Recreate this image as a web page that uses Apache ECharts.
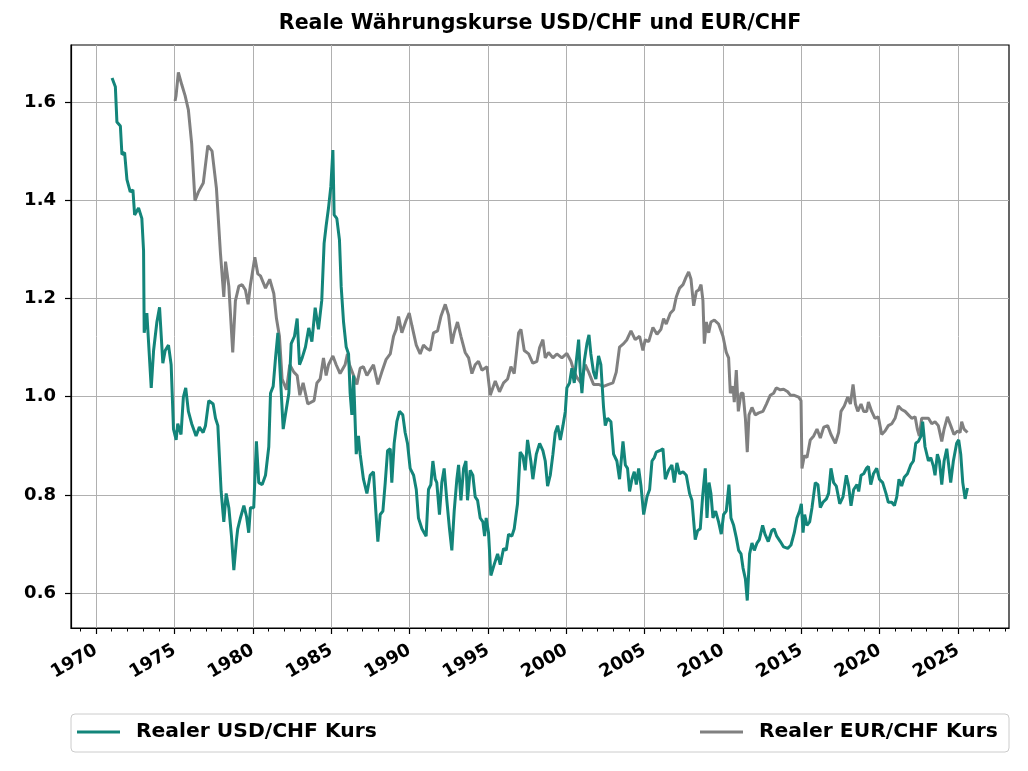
<!DOCTYPE html>
<html>
<head>
<meta charset="utf-8">
<title>Reale Währungskurse</title>
<script src="https://cdn.jsdelivr.net/npm/echarts@6.0.0/dist/echarts.min.js"></script>
<style>
    html,body{margin:0;padding:0;background:#fff;}
    #chart{width:1028px;height:771px;}
</style>
</head>
<body>
<div id="chart"></div>
<script type="text/javascript">
// Werte (Jahr als Dezimalzahl, Kurs)
var usdYears = [1971.02,1971.23,1971.33,1971.55,1971.65,1971.82,1971.97,1972.18,1972.35,1972.46,1972.71,1972.92,1973.03,1973.07,1973.24,1973.52,1973.67,1973.88,1974.05,1974.26,1974.41,1974.62,1974.79,1974.94,1975.11,1975.21,1975.42,1975.57,1975.72,1975.89,1976.10,1976.38,1976.59,1976.83,1976.98,1977.19,1977.47,1977.62,1977.77,1977.98,1978.15,1978.30,1978.47,1978.64,1978.79,1978.96,1979.04,1979.21,1979.43,1979.60,1979.74,1979.85,1980.06,1980.23,1980.38,1980.60,1980.81,1981.02,1981.13,1981.30,1981.45,1981.60,1981.72,1981.94,1982.08,1982.30,1982.45,1982.66,1982.83,1982.98,1983.15,1983.36,1983.57,1983.77,1983.98,1984.19,1984.40,1984.55,1984.68,1984.83,1984.98,1985.11,1985.19,1985.36,1985.53,1985.64,1985.79,1985.96,1986.11,1986.21,1986.32,1986.43,1986.60,1986.74,1986.85,1987.06,1987.28,1987.49,1987.70,1987.85,1987.98,1988.13,1988.30,1988.45,1988.60,1988.77,1988.87,1989.02,1989.19,1989.36,1989.57,1989.72,1989.87,1990.04,1990.26,1990.43,1990.57,1990.79,1991.06,1991.21,1991.36,1991.49,1991.64,1991.74,1991.91,1992.06,1992.21,1992.38,1992.55,1992.70,1992.85,1993.02,1993.13,1993.28,1993.45,1993.60,1993.70,1993.87,1994.04,1994.19,1994.34,1994.51,1994.68,1994.79,1994.89,1995.04,1995.19,1995.40,1995.62,1995.79,1996.00,1996.17,1996.32,1996.53,1996.68,1996.89,1997.06,1997.23,1997.38,1997.53,1997.74,1997.87,1998.09,1998.30,1998.51,1998.66,1998.81,1998.98,1999.15,1999.30,1999.45,1999.62,1999.79,1999.94,2000.04,2000.21,2000.36,2000.51,2000.64,2000.79,2000.89,2001.00,2001.15,2001.32,2001.45,2001.57,2001.74,2001.89,2002.06,2002.21,2002.38,2002.49,2002.64,2002.85,2003.02,2003.23,2003.40,2003.62,2003.77,2003.91,2004.04,2004.19,2004.34,2004.47,2004.62,2004.77,2004.94,2005.15,2005.32,2005.47,2005.62,2005.74,2005.96,2006.17,2006.32,2006.53,2006.74,2006.89,2007.06,2007.23,2007.45,2007.66,2007.87,2008.02,2008.23,2008.38,2008.55,2008.70,2008.87,2008.98,2009.11,2009.23,2009.36,2009.53,2009.72,2009.89,2010.04,2010.21,2010.38,2010.51,2010.68,2010.85,2011.00,2011.15,2011.28,2011.43,2011.55,2011.70,2011.85,2012.00,2012.17,2012.32,2012.53,2012.68,2012.89,2013.11,2013.26,2013.43,2013.66,2013.87,2014.13,2014.34,2014.55,2014.72,2014.89,2015.00,2015.11,2015.21,2015.36,2015.53,2015.68,2015.89,2016.06,2016.21,2016.38,2016.60,2016.74,2016.89,2017.06,2017.23,2017.45,2017.66,2017.87,2018.02,2018.17,2018.34,2018.55,2018.66,2018.81,2018.98,2019.15,2019.28,2019.43,2019.60,2019.81,2019.98,2020.19,2020.40,2020.55,2020.77,2020.94,2021.09,2021.23,2021.40,2021.57,2021.77,2021.98,2022.15,2022.30,2022.47,2022.64,2022.74,2022.89,2023.11,2023.26,2023.43,2023.53,2023.68,2023.81,2023.96,2024.11,2024.28,2024.40,2024.53,2024.70,2024.91,2025.04,2025.17,2025.30,2025.45,2025.60];
var usdValues = [1.649,1.631,1.559,1.551,1.493,1.497,1.442,1.417,1.421,1.370,1.384,1.363,1.297,1.130,1.170,1.018,1.094,1.152,1.182,1.068,1.094,1.105,1.065,0.934,0.912,0.945,0.923,0.999,1.018,0.970,0.945,0.920,0.938,0.927,0.941,0.992,0.985,0.956,0.941,0.807,0.745,0.803,0.774,0.716,0.647,0.709,0.731,0.753,0.778,0.756,0.723,0.774,0.774,0.909,0.825,0.821,0.840,0.898,1.007,1.021,1.079,1.130,1.065,0.934,0.963,1.007,1.108,1.123,1.159,1.065,1.079,1.101,1.140,1.112,1.181,1.137,1.196,1.312,1.348,1.384,1.428,1.502,1.370,1.363,1.319,1.224,1.152,1.101,1.087,1.007,0.963,1.043,0.883,0.920,0.883,0.832,0.803,0.840,0.847,0.767,0.705,0.760,0.767,0.825,0.890,0.894,0.825,0.905,0.949,0.970,0.963,0.927,0.905,0.854,0.840,0.811,0.753,0.731,0.716,0.811,0.821,0.869,0.832,0.825,0.760,0.825,0.854,0.789,0.731,0.687,0.767,0.832,0.861,0.789,0.854,0.869,0.789,0.850,0.840,0.796,0.789,0.753,0.745,0.716,0.753,0.723,0.636,0.658,0.680,0.658,0.691,0.687,0.720,0.716,0.731,0.782,0.887,0.879,0.850,0.912,0.869,0.832,0.883,0.905,0.890,0.869,0.818,0.840,0.883,0.927,0.941,0.912,0.941,0.970,1.018,1.028,1.058,1.028,1.072,1.116,1.050,1.007,1.072,1.108,1.126,1.087,1.050,1.036,1.083,1.065,0.978,0.941,0.956,0.949,0.883,0.869,0.832,0.909,0.861,0.854,0.807,0.832,0.847,0.821,0.854,0.818,0.760,0.796,0.811,0.869,0.876,0.887,0.890,0.894,0.832,0.850,0.861,0.825,0.865,0.843,0.847,0.840,0.803,0.789,0.709,0.727,0.731,0.796,0.854,0.753,0.825,0.803,0.753,0.767,0.745,0.720,0.760,0.767,0.821,0.753,0.738,0.713,0.687,0.680,0.651,0.629,0.585,0.680,0.702,0.687,0.702,0.709,0.738,0.720,0.705,0.727,0.731,0.716,0.705,0.694,0.691,0.698,0.723,0.753,0.767,0.782,0.723,0.760,0.738,0.745,0.774,0.825,0.821,0.774,0.785,0.792,0.803,0.854,0.825,0.818,0.782,0.796,0.840,0.818,0.778,0.811,0.821,0.807,0.840,0.843,0.854,0.858,0.821,0.843,0.854,0.832,0.825,0.803,0.785,0.785,0.778,0.796,0.832,0.818,0.836,0.843,0.861,0.869,0.905,0.909,0.920,0.949,0.898,0.869,0.876,0.858,0.840,0.883,0.869,0.821,0.869,0.894,0.861,0.825,0.869,0.905,0.912,0.883,0.825,0.792,0.814];

var eurYears = [1975.04,1975.10,1975.25,1975.47,1975.68,1975.89,1976.10,1976.31,1976.53,1976.84,1977.13,1977.40,1977.68,1977.94,1978.15,1978.26,1978.47,1978.72,1978.89,1979.11,1979.32,1979.53,1979.70,1979.85,1980.13,1980.32,1980.49,1980.81,1981.08,1981.34,1981.51,1981.70,1981.87,1982.15,1982.36,1982.62,1982.83,1983.00,1983.21,1983.51,1983.91,1984.09,1984.30,1984.51,1984.68,1984.83,1985.11,1985.32,1985.57,1985.89,1986.04,1986.17,1986.43,1986.64,1986.85,1987.06,1987.28,1987.49,1987.70,1987.98,1988.23,1988.51,1988.77,1988.98,1989.15,1989.30,1989.51,1989.79,1989.98,1990.15,1990.43,1990.68,1990.89,1991.11,1991.32,1991.53,1991.79,1992.00,1992.28,1992.49,1992.70,1992.85,1993.06,1993.28,1993.55,1993.77,1993.98,1994.19,1994.40,1994.62,1994.94,1995.15,1995.47,1995.74,1996.00,1996.26,1996.47,1996.68,1996.96,1997.11,1997.32,1997.60,1997.87,1998.13,1998.30,1998.51,1998.66,1998.87,1999.15,1999.40,1999.72,2000.04,2000.30,2000.51,2000.68,2000.94,2001.21,2001.43,2001.74,2002.06,2002.38,2002.70,2002.98,2003.19,2003.40,2003.66,2003.87,2004.13,2004.40,2004.68,2004.89,2005.04,2005.26,2005.53,2005.79,2006.04,2006.21,2006.38,2006.64,2006.85,2007.02,2007.23,2007.45,2007.64,2007.81,2007.96,2008.13,2008.30,2008.45,2008.60,2008.72,2008.81,2008.94,2009.09,2009.23,2009.45,2009.72,2010.00,2010.21,2010.36,2010.47,2010.64,2010.72,2010.85,2010.98,2011.15,2011.28,2011.43,2011.55,2011.66,2011.85,2012.06,2012.28,2012.55,2012.77,2013.02,2013.23,2013.40,2013.66,2013.87,2014.13,2014.30,2014.51,2014.83,2014.98,2015.04,2015.19,2015.36,2015.57,2015.79,2016.00,2016.21,2016.43,2016.68,2016.89,2017.17,2017.38,2017.53,2017.74,2017.96,2018.13,2018.30,2018.45,2018.60,2018.81,2018.98,2019.17,2019.28,2019.49,2019.70,2019.91,2020.13,2020.34,2020.55,2020.77,2020.98,2021.19,2021.40,2021.62,2021.83,2022.04,2022.26,2022.40,2022.53,2022.68,2022.89,2023.11,2023.32,2023.53,2023.74,2023.96,2024.11,2024.32,2024.53,2024.74,2024.96,2025.13,2025.23,2025.38,2025.60];
var eurValues = [1.602,1.612,1.660,1.635,1.613,1.584,1.515,1.399,1.417,1.435,1.511,1.500,1.424,1.290,1.203,1.275,1.225,1.090,1.195,1.225,1.228,1.217,1.188,1.228,1.284,1.250,1.246,1.221,1.239,1.210,1.159,1.123,1.036,1.014,1.065,1.050,1.043,1.003,1.028,0.985,0.992,1.028,1.036,1.079,1.043,1.065,1.083,1.065,1.047,1.065,1.087,1.065,1.043,1.025,1.058,1.061,1.043,1.054,1.065,1.025,1.050,1.076,1.087,1.123,1.137,1.163,1.130,1.156,1.170,1.145,1.105,1.087,1.105,1.098,1.094,1.130,1.134,1.163,1.188,1.166,1.108,1.130,1.152,1.123,1.090,1.079,1.047,1.065,1.072,1.054,1.061,1.003,1.032,1.010,1.028,1.036,1.061,1.047,1.130,1.137,1.094,1.087,1.068,1.072,1.100,1.116,1.079,1.090,1.079,1.087,1.079,1.088,1.072,1.050,1.039,1.028,1.065,1.050,1.025,1.025,1.021,1.025,1.028,1.050,1.101,1.108,1.116,1.134,1.116,1.123,1.094,1.116,1.112,1.141,1.127,1.137,1.159,1.148,1.170,1.177,1.203,1.221,1.228,1.243,1.254,1.239,1.185,1.214,1.217,1.228,1.196,1.108,1.152,1.130,1.152,1.156,1.148,1.123,1.090,1.079,1.007,1.021,0.989,1.054,0.970,1.007,1.007,0.956,0.887,0.963,0.978,0.963,0.967,0.970,0.985,1.003,1.007,1.018,1.014,1.015,1.010,1.003,1.003,0.999,0.992,0.854,0.880,0.876,0.912,0.920,0.934,0.916,0.938,0.941,0.923,0.905,0.927,0.970,0.981,0.999,0.985,1.025,0.985,0.970,0.985,0.970,0.970,0.989,0.970,0.956,0.959,0.923,0.930,0.941,0.945,0.956,0.981,0.974,0.970,0.963,0.956,0.959,0.934,0.920,0.956,0.956,0.956,0.945,0.949,0.941,0.909,0.934,0.959,0.941,0.923,0.930,0.927,0.949,0.934,0.927];

var yearLabels = [1970,1975,1980,1985,1990,1995,2000,2005,2010,2015,2020,2025];
var minorYears = [];
for (var y = 1969; y <= 2028; y++) { minorYears.push(y); }
var yTicks = [0.6,0.8,1.0,1.2,1.4,1.6];

function pairs(xs, vs) {
    var out = [];
    for (var i = 0; i < xs.length; i++) { out.push([xs[i], vs[i]]); }
    return out;
}

var chart = echarts.init(document.getElementById('chart'));
var fontBold = { fontFamily: 'DejaVu Sans', fontWeight: 'bold', color: '#000' };
var legendText = { fontFamily: 'DejaVu Sans', fontWeight: 'bold', fontSize: 20.3, color: '#000', lineHeight: 24, padding: [0, 0, 0, 11] };

var option = {
    animation: false,
    backgroundColor: '#ffffff',
    title: {
        text: 'Reale Währungskurse USD/CHF und EUR/CHF',
        left: 540,
        textAlign: 'center',
        top: 13,
        padding: 0,
        textStyle: { fontFamily: 'DejaVu Sans', fontWeight: 'bold', fontSize: 20.6, color: '#000' }
    },
    grid: {
        left: 71, right: 19, top: 45, bottom: 143,
        show: true, borderColor: '#000', borderWidth: 1.2, backgroundColor: 'transparent'
    },
    graphic: [{
        type: 'rect',
        z: 0,
        shape: { x: 71, y: 714, width: 938, height: 38, r: 4 },
        style: { fill: '#fff', stroke: '#cccccc', lineWidth: 1 }
    }],
    legend: [{
        data: ['Realer USD/CHF Kurs'],
        left: 77, top: 720, padding: 0, z: 10,
        icon: 'rect', itemWidth: 43, itemHeight: 3,
        textStyle: legendText
    }, {
        data: ['Realer EUR/CHF Kurs'],
        left: 700, top: 720, padding: 0, z: 10,
        icon: 'rect', itemWidth: 43, itemHeight: 3,
        textStyle: legendText
    }],
    xAxis: [{
        type: 'value',
        min: 1968.4, max: 2028.25,
        axisLine: { lineStyle: { color: '#000', width: 1.2 } },
        axisTick: { customValues: yearLabels, length: 6, lineStyle: { color: '#000', width: 1.2 } },
        axisLabel: Object.assign({ customValues: yearLabels, rotate: 30, fontSize: 18, margin: 21, formatter: function (v) { return String(v); } }, fontBold),
        splitLine: { show: true, lineStyle: { color: '#b0b0b0', width: 1 } }
    }, {
        type: 'value',
        position: 'bottom',
        min: 1968.4, max: 2028.25,
        axisLine: { show: false },
        axisTick: { customValues: minorYears, length: 3.5, lineStyle: { color: '#000', width: 1 } },
        axisLabel: { show: false },
        splitLine: { show: false }
    }],
    yAxis: {
        type: 'value',
        min: 0.529, max: 1.716,
        axisLine: { show: true, lineStyle: { color: '#000', width: 1.2 } },
        axisTick: { show: true, customValues: yTicks, length: 6, lineStyle: { color: '#000', width: 1.2 } },
        axisLabel: Object.assign({ customValues: yTicks, fontSize: 18, margin: 15, formatter: function (v) { return v.toFixed(1); } }, fontBold),
        splitLine: { show: true, lineStyle: { color: '#b0b0b0', width: 1 } }
    },
    series: [{
        name: 'Realer USD/CHF Kurs',
        type: 'line',
        showSymbol: false,
        data: pairs(usdYears, usdValues),
        color: '#13857a',
        lineStyle: { width: 3, color: '#13857a' },
        z: 3
    }, {
        name: 'Realer EUR/CHF Kurs',
        type: 'line',
        showSymbol: false,
        data: pairs(eurYears, eurValues),
        color: '#808080',
        lineStyle: { width: 3, color: '#808080' },
        z: 2
    }]
};

chart.setOption(option);
</script>
</body>
</html>
